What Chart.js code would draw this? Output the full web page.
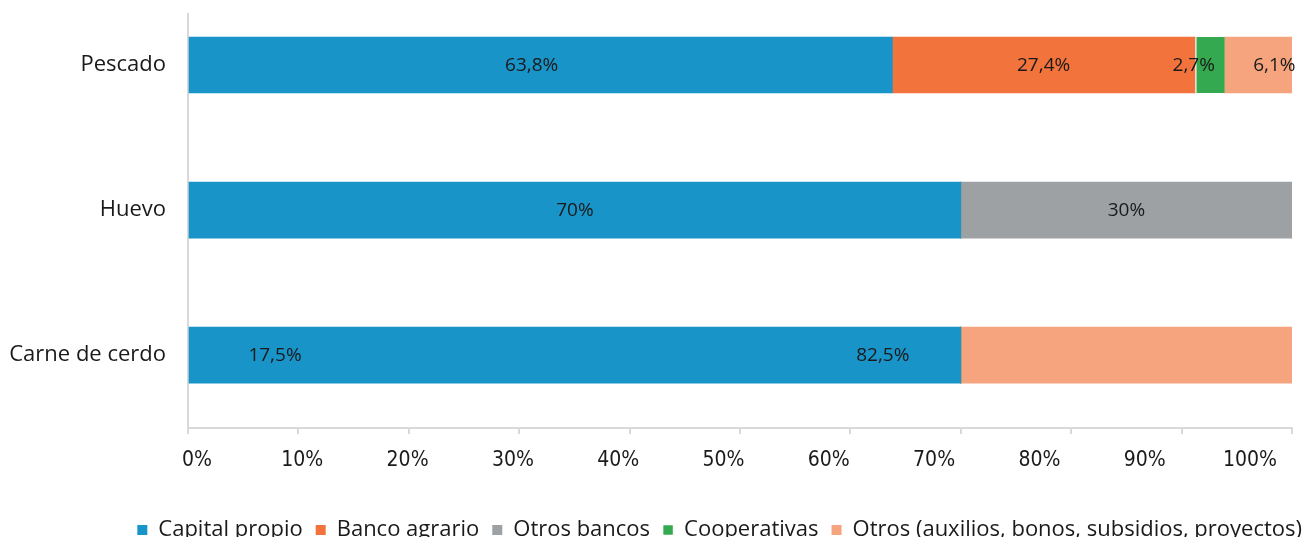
<!DOCTYPE html>
<html>
<head>
<meta charset="utf-8">
<script src="https://cdn.jsdelivr.net/npm/chart.js@4"></script>
<style>
  html, body { margin: 0; padding: 0; background: #fff; overflow: hidden; }
</style>
</head>
<body>
<canvas id="myChart" width="1315" height="551"></canvas>
<script>
// categories, top to bottom
var categories = ['Pescado', 'Huevo', 'Carne de cerdo'];

// series values (%)
var capitalPropio = [63.8, 70, 70];
var bancoAgrario = [27.4, 0, 0];
var otrosBancos = [0, 30, 0];
var cooperativas = [2.7, 0, 0];
var otrosAyudas = [6.1, 0, 30];

// labels printed on the bars
var capitalLabels = ['63,8%', '70%', '17,5%'];
var bancoLabels = ['27,4%', '', ''];
var otrosBancosLabels = ['', '30%', ''];
var coopLabels = ['2,7%', '', ''];
var otrosLabels = ['6,1%', '', '82,5%'];

var xTicks = [0, 10, 20, 30, 40, 50, 60, 70, 80, 90, 100];

function points(values) {
  return values.map(function (v, i) { return { x: v, y: i }; });
}

function noPadding(scale) {
  scale.paddingTop = 0;
  scale.paddingBottom = 0;
  scale.paddingLeft = 0;
  scale.paddingRight = 0;
}

// where a label is not centred on its own segment
var labelPlacement = {
  0: { 0: { dx: -9 }, 2: { from: 'base', dx: 86 } },
  3: { 0: { dx: -16 } },
  4: { 0: { dx: 16 }, 2: { from: 'base', dx: -78 } }
};

var barLabels = {
  id: 'barLabels',
  afterDatasetsDraw: function (chart) {
    var ctx = chart.ctx;
    ctx.save();
    ctx.font = '19px "Open Sans"';
    ctx.fillStyle = '#1a1a1a';
    ctx.textAlign = 'center';
    ctx.textBaseline = 'middle';
    chart.data.datasets.forEach(function (ds, i) {
      var meta = chart.getDatasetMeta(i);
      meta.data.forEach(function (bar, j) {
        var text = ds.valueLabels[j];
        if (!text) return;
        var x = (bar.x + bar.base) / 2;
        var place = (labelPlacement[i] || {})[j];
        if (place) {
          if (place.from === 'base') x = bar.base;
          x += place.dx;
        }
        ctx.fillText(text, x, bar.y + 1);
      });
    });
    ctx.restore();
  }
};

var ctx = document.getElementById('myChart').getContext('2d');

var myChart = new Chart(ctx, {
  type: 'bar',
  data: {
    datasets: [
      { label: 'Capital propio', data: points(capitalPropio), valueLabels: capitalLabels, backgroundColor: '#1994c8' },
      { label: 'Banco agrario', data: points(bancoAgrario), valueLabels: bancoLabels, backgroundColor: '#f2733b' },
      { label: 'Otros bancos', data: points(otrosBancos), valueLabels: otrosBancosLabels, backgroundColor: '#9da1a4' },
      { label: 'Cooperativas', data: points(cooperativas), valueLabels: coopLabels, backgroundColor: '#35a94f',
        borderColor: '#ffffff', borderWidth: { left: 2, right: 0, top: 0, bottom: 0 }, borderSkipped: false },
      { label: 'Otros (auxilios, bonos, subsidios, proyectos)', data: points(otrosAyudas), valueLabels: otrosLabels, backgroundColor: '#f5a47e' }
    ]
  },
  options: {
    indexAxis: 'y',
    responsive: false,
    animation: false,
    barThickness: 56,
    layout: { padding: { top: 14, left: 0, right: 0, bottom: 0 } },
    scales: {
      x: {
        stacked: true,
        weight: 0,
        min: 0,
        max: 100,
        afterBuildTicks: function (scale) {
          scale.ticks = xTicks.map(function (v) { return { value: v }; });
        },
        afterFit: function (scale) {
          scale.height = 6;
          noPadding(scale);
          scale.paddingRight = 23;
        },
        ticks: { display: false },
        grid: { drawOnChartArea: false, drawTicks: true, tickLength: 6, color: '#d9d9d9', lineWidth: 2 },
        border: { display: true, color: '#d9d9d9', width: 2 }
      },
      // tick labels sit on a slightly narrower spacing than the tick marks
      xLabels: {
        type: 'linear',
        position: 'bottom',
        axis: 'x',
        weight: 1,
        min: -0.855,
        max: 103.99,
        afterBuildTicks: function (scale) {
          scale.ticks = xTicks.map(function (v) { return { value: v }; });
        },
        afterFit: function (scale) {
          scale.height = 72;
          noPadding(scale);
        },
        ticks: {
          padding: 14,
          color: '#1a1a1a',
          font: { family: "'Liberation Sans Narrow', 'DejaVu Sans Condensed', sans-serif", size: 21 },
          callback: function (v) { return v + '%'; }
        },
        grid: { display: false, drawTicks: false },
        border: { display: false }
      },
      y: {
        type: 'linear',
        stacked: true,
        reverse: true,
        offset: false,
        min: -0.352,
        max: 2.503,
        afterFit: function (scale) {
          scale.width = 188;
          noPadding(scale);
        },
        ticks: {
          stepSize: 1,
          padding: 22,
          color: '#1a1a1a',
          font: { family: "'Open Sans'", size: 22 },
          callback: function (v) { return Number.isInteger(v) ? categories[v] : ''; }
        },
        grid: { display: false, drawTicks: false },
        border: { display: true, color: '#d9d9d9', width: 2 }
      }
    },
    plugins: {
      tooltip: { enabled: false },
      legend: {
        position: 'bottom',
        align: 'end',
        labels: {
          boxWidth: 10,
          boxHeight: 10,
          padding: 13,
          color: '#1a1a1a',
          font: { family: "'Open Sans'", size: 22 }
        }
      }
    }
  },
  plugins: [barLabels]
});
</script>
</body>
</html>
